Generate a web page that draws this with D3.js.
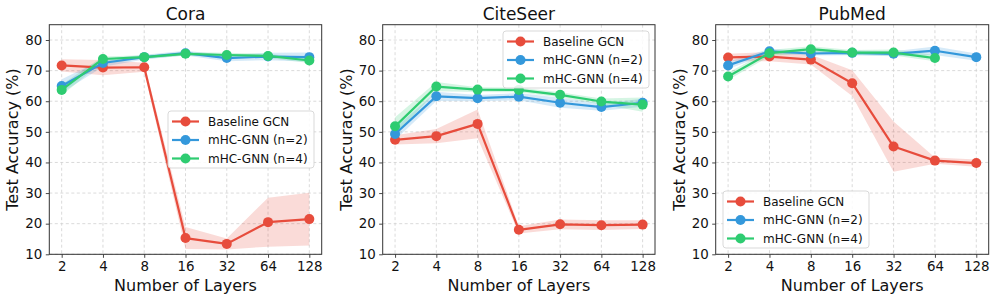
<!DOCTYPE html>
<html>
<head>
<meta charset="utf-8">
<script src="https://cdn.jsdelivr.net/npm/d3@7"></script>
<style>
  html, body { margin: 0; padding: 0; background: #fff; }
  svg { display: block; font-family: "DejaVu Sans", sans-serif; }
</style>
</head>
<body>
<svg id="chart" width="996" height="300"></svg>
<script>
// ---------- data ----------
const layers = [2, 4, 8, 16, 32, 64, 128];
const yTicks = [10, 20, 30, 40, 50, 60, 70, 80];
const datasetNames = ["Cora", "CiteSeer", "PubMed"];
const seriesNames = ["Baseline GCN", "mHC-GNN (n=2)", "mHC-GNN (n=4)"];
const seriesColors = ["#e74c3c", "#3498db", "#2ecc71"];

// Cora
const coraBaseline    = [71.7, 71.0, 71.1, 15.3, 13.4, 20.5, 21.5];
const coraBaselineStd = [2.0, 2.5, 1.5, 3.6, 1.8, 8.0, 8.6];
const coraN2          = [65.0, 72.5, 74.4, 75.7, 74.1, 74.6, 74.4];
const coraN2Std       = [2.2, 1.2, 0.8, 0.8, 1.0, 1.2, 1.5];
const coraN4          = [63.7, 73.8, 74.4, 75.5, 75.1, 74.8, 73.3];
const coraN4Std       = [1.8, 0.8, 0.6, 0.6, 0.7, 0.7, 0.8];

// CiteSeer
const citeBaseline    = [47.4, 48.6, 52.6, 18.0, 19.8, 19.5, 19.7];
const citeBaselineStd = [1.5, 2.3, 4.7, 1.2, 1.6, 1.6, 1.4];
const citeN2          = [49.3, 61.6, 61.0, 61.5, 59.5, 58.1, 59.5];
const citeN2Std       = [2.0, 1.5, 1.0, 1.2, 1.6, 1.2, 1.3];
const citeN4          = [51.8, 64.8, 63.8, 63.7, 62.1, 59.9, 58.9];
const citeN4Std       = [3.0, 1.5, 0.8, 0.8, 0.8, 1.0, 2.3];

// PubMed
const pubBaseline     = [74.3, 74.6, 73.6, 65.9, 45.2, 40.6, 39.8];
const pubBaselineStd  = [1.2, 1.5, 1.6, 4.2, 8.2, 1.0, 1.2];
const pubN2           = [71.7, 76.3, 75.6, 75.8, 75.5, 76.5, 74.4];
const pubN2Std        = [1.2, 0.8, 0.7, 0.8, 0.8, 1.4, 1.2];
const pubN4           = [68.1, 75.7, 77.0, 75.9, 75.9, 74.1, null];
const pubN4Std        = [1.2, 1.0, 1.0, 0.8, 1.0, 1.0, null];

const panels = [
  { title: datasetNames[0], left: 49.3, right: 321.7, legend: { x: 168, y: 111 },
    series: [[coraBaseline, coraBaselineStd], [coraN2, coraN2Std], [coraN4, coraN4Std]] },
  { title: datasetNames[1], left: 382.7, right: 655, legend: { x: 503, y: 31 },
    series: [[citeBaseline, citeBaselineStd], [citeN2, citeN2Std], [citeN4, citeN4Std]] },
  { title: datasetNames[2], left: 715.7, right: 988.7, legend: { x: 723, y: 191 },
    series: [[pubBaseline, pubBaselineStd], [pubN2, pubN2Std], [pubN4, pubN4Std]] }
];

const plotTop = 24.7, plotBottom = 254.3;
const svg = d3.select("#chart");

panels.forEach(p => {
  const pad = Math.pow(2, 0.3);
  const x = d3.scaleLog().base(2).domain([layers[0] / pad, layers[layers.length - 1] * pad]).range([p.left, p.right]);
  const y = d3.scaleLinear().domain([10, 85]).range([plotBottom, plotTop]);
  const g = svg.append("g");

  // grid
  g.append("g").selectAll("line").data(layers).join("line")
    .attr("x1", d => x(d)).attr("x2", d => x(d)).attr("y1", plotTop).attr("y2", plotBottom)
    .attr("stroke", "#d0d0d0").attr("stroke-width", 0.8).attr("stroke-dasharray", "3,2.5");
  g.append("g").selectAll("line").data(yTicks).join("line")
    .attr("y1", d => y(d)).attr("y2", d => y(d)).attr("x1", p.left).attr("x2", p.right)
    .attr("stroke", "#d0d0d0").attr("stroke-width", 0.8).attr("stroke-dasharray", "3,2.5");

  // bands
  p.series.forEach((s, i) => {
    const [mean, std] = s;
    const pts = layers.map((l, k) => ({ l, m: mean[k], s: std[k] })).filter(d => d.m != null);
    const area = d3.area().x(d => x(d.l)).y0(d => y(d.m - d.s)).y1(d => y(d.m + d.s));
    g.append("path").datum(pts).attr("d", area)
      .attr("fill", seriesColors[i]).attr("fill-opacity", 0.2).attr("stroke", "none");
  });
  // lines + markers
  p.series.forEach((s, i) => {
    const [mean] = s;
    const pts = layers.map((l, k) => ({ l, m: mean[k] })).filter(d => d.m != null);
    const line = d3.line().x(d => x(d.l)).y(d => y(d.m));
    g.append("path").datum(pts).attr("d", line)
      .attr("fill", "none").attr("stroke", seriesColors[i]).attr("stroke-width", 2.2)
      .attr("stroke-linejoin", "round");
    g.append("g").selectAll("circle").data(pts).join("circle")
      .attr("cx", d => x(d.l)).attr("cy", d => y(d.m)).attr("r", 5)
      .attr("fill", seriesColors[i]);
  });

  // axes
  const xAxis = d3.axisBottom(x).tickValues(layers).tickFormat(d3.format("d")).tickSize(3.5).tickPadding(3.5);
  const gx = g.append("g").attr("transform", `translate(0,${plotBottom})`).call(xAxis);
  const yAxis = d3.axisLeft(y).tickValues(yTicks).tickSize(3.5).tickPadding(3.5);
  const gy = g.append("g").attr("transform", `translate(${p.left},0)`).call(yAxis);
  [gx, gy].forEach(ax => {
    ax.select(".domain").remove();
    ax.selectAll(".tick line").attr("stroke", "#333").attr("stroke-width", 0.9);
    ax.selectAll(".tick text").attr("font-size", 13.4).attr("fill", "#111")
      .attr("font-family", "DejaVu Sans, sans-serif");
  });

  // frame
  g.append("rect").attr("x", p.left).attr("y", plotTop).attr("width", p.right - p.left).attr("height", plotBottom - plotTop)
    .attr("fill", "none").attr("stroke", "#333").attr("stroke-width", 1);

  // labels
  g.append("text").attr("x", (p.left + p.right) / 2).attr("y", 20).attr("text-anchor", "middle")
    .attr("font-size", 17).attr("fill", "#111").text(p.title);
  g.append("text").attr("x", (p.left + p.right) / 2).attr("y", 291).attr("text-anchor", "middle")
    .attr("font-size", 16).attr("fill", "#111").text("Number of Layers");
  g.append("text").attr("transform", `translate(${p.left - 31},${(plotTop + plotBottom) / 2}) rotate(-90)`)
    .attr("text-anchor", "middle").attr("font-size", 16).attr("fill", "#111").text("Test Accuracy (%)");

  // legend
  const lg = g.append("g").attr("transform", `translate(${p.legend.x},${p.legend.y})`);
  lg.append("rect").attr("x", 0).attr("y", 0).attr("width", 146).attr("height", 57).attr("rx", 3)
    .attr("fill", "#fff").attr("fill-opacity", 0.85).attr("stroke", "#d5d5d5").attr("stroke-width", 0.9);
  seriesNames.forEach((n, i) => {
    const cy = 10.5 + i * 18.5;
    lg.append("line").attr("x1", 4).attr("x2", 31).attr("y1", cy).attr("y2", cy)
      .attr("stroke", seriesColors[i]).attr("stroke-width", 2.2);
    lg.append("circle").attr("cx", 17.5).attr("cy", cy).attr("r", 5).attr("fill", seriesColors[i]);
    lg.append("text").attr("x", 40).attr("y", cy + 4.3).attr("font-size", 12).attr("fill", "#111").text(n);
  });
});
</script>
</body>
</html>
